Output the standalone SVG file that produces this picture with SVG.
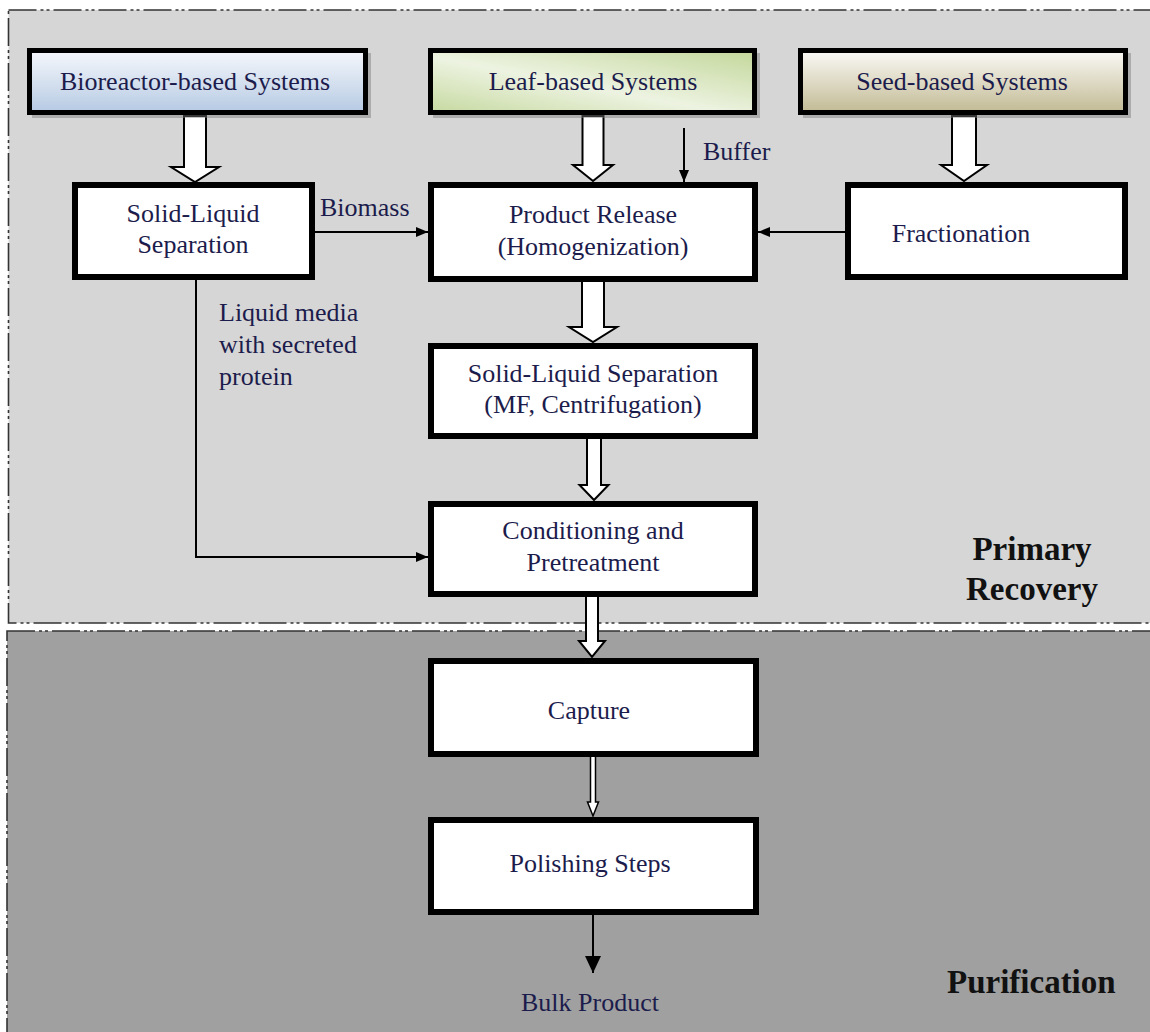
<svg xmlns="http://www.w3.org/2000/svg" width="1150" height="1032" viewBox="0 0 1150 1032">
<defs>
<linearGradient id="gBio" x1="0" y1="0" x2="0" y2="1"><stop offset="0" stop-color="#f6f8fc"/><stop offset="1" stop-color="#b6cae3"/></linearGradient>
<linearGradient id="gLeaf" x1="0" y1="1" x2="1" y2="0"><stop offset="0" stop-color="#c6d9a0"/><stop offset="0.45" stop-color="#edf3e1"/><stop offset="1" stop-color="#c3d79a"/></linearGradient>
<linearGradient id="gSeed" x1="0" y1="0" x2="0" y2="1"><stop offset="0" stop-color="#fbfaf7"/><stop offset="1" stop-color="#c2ba94"/></linearGradient>
<marker id="ah" viewBox="0 0 12 10" refX="12" refY="5" markerWidth="12" markerHeight="10" markerUnits="userSpaceOnUse" orient="auto"><path d="M0,0 L12,5 L0,10 Z" fill="#000"/></marker>
<marker id="ahBig" viewBox="0 0 17 16" refX="17" refY="8" markerWidth="17" markerHeight="16" markerUnits="userSpaceOnUse" orient="auto"><path d="M0,0 L17,8 L0,16 Z" fill="#000"/></marker>
</defs>
<style>
.region{stroke:#333;stroke-width:1.6;stroke-dasharray:28 4 3 3 3 4}
.box{fill:#fff;stroke:#000;stroke-width:6}
.cbox{stroke:#000;stroke-width:5}
.shadow{fill:#7a7a7a;opacity:0.45}
.t{font-family:"Liberation Serif","Times New Roman",serif;font-size:26px;fill:#1c1c4c}
.c{text-anchor:middle}
.b{font-family:"Liberation Serif","Times New Roman",serif;font-size:33px;font-weight:bold;fill:#111}
.hollow{fill:#fff;stroke:#000;stroke-width:2}
.thin{fill:none;stroke:#000;stroke-width:2}
</style>
<rect width="1150" height="1032" fill="#fff"/>
<g id="regions">
<rect class="region" x="8.5" y="10" width="1160" height="613" fill="#d6d6d6"/>
<rect class="region" x="7" y="631" width="1160" height="420" fill="#a0a0a0"/>
<text class="b c" x="1032" y="560">Primary</text>
<text class="b c" x="1032" y="600">Recovery</text>
<text class="b" x="947" y="993">Purification</text>
</g>
<g id="connectors">
<path class="hollow" d="M184,116 V167 H171 L195,182 L219,167 H206 V116 Z"/>
<path class="hollow" d="M582.5,116 V165 H573 L593,181 L613,165 H603.5 V116 Z"/>
<path class="hollow" d="M952,116 V165 H941 L964,181 L987,165 H976 V116 Z"/>
<path class="hollow" d="M582,281 V327 H569 L593,342 L617,327 H604 V281 Z"/>
<path class="hollow" d="M587,438 V485 H579.5 L594,500 L608.5,485 H601 V438 Z"/>
<path class="hollow" d="M586,596 V641 H579 L592,657 L605,641 H598 V596 Z"/>
<path class="hollow" style="stroke-width:1.5" d="M590.5,756 V802 H587.5 L593,816 L598.5,802 H595.5 V756 Z"/>
<line class="thin" x1="315" y1="232" x2="428" y2="232" marker-end="url(#ah)"/>
<line class="thin" x1="684" y1="128" x2="684" y2="182" marker-end="url(#ah)"/>
<line class="thin" x1="845" y1="232" x2="758" y2="232" marker-end="url(#ah)"/>
<path class="thin" d="M196,280 V557 H428" marker-end="url(#ah)"/>
<line class="thin" x1="593" y1="915" x2="593" y2="973" marker-end="url(#ahBig)"/>
<text class="t" x="320" y="216">Biomass</text>
<text class="t" x="703" y="160">Buffer</text>
<text class="t" x="219" y="321">Liquid media</text>
<text class="t" x="219" y="353">with secreted</text>
<text class="t" x="219" y="385">protein</text>
<text class="t c" x="590" y="1011">Bulk Product</text>
</g>
<g id="bioreactor">
<rect class="shadow" x="32" y="53" width="339" height="65"/>
<rect class="cbox" x="29.5" y="50.5" width="336" height="62" fill="url(#gBio)"/>
<text class="t c" x="195" y="90">Bioreactor-based Systems</text>
</g>
<g id="leaf">
<rect class="shadow" x="433" y="53" width="327" height="65"/>
<rect class="cbox" x="430.5" y="50.5" width="324" height="62" fill="url(#gLeaf)"/>
<text class="t c" x="593" y="90">Leaf-based Systems</text>
</g>
<g id="seed">
<rect class="shadow" x="803" y="53" width="328" height="65"/>
<rect class="cbox" x="800.5" y="50.5" width="325" height="62" fill="url(#gSeed)"/>
<text class="t c" x="962" y="90">Seed-based Systems</text>
</g>
<g id="sl1">
<rect class="box" x="75" y="185" width="237" height="92"/>
<text class="t c" x="193" y="222">Solid-Liquid</text>
<text class="t c" x="193" y="253">Separation</text>
</g>
<g id="release">
<rect class="box" x="431" y="185" width="324" height="94"/>
<text class="t c" x="593" y="223">Product Release</text>
<text class="t c" x="593" y="255">(Homogenization)</text>
</g>
<g id="fractionation">
<rect class="box" x="848" y="185" width="277" height="92"/>
<text class="t c" x="961" y="242">Fractionation</text>
</g>
<g id="sl2">
<rect class="box" x="431" y="346" width="324" height="90"/>
<text class="t c" x="593" y="382">Solid-Liquid Separation</text>
<text class="t c" x="593" y="413">(MF, Centrifugation)</text>
</g>
<g id="conditioning">
<rect class="box" x="431" y="504" width="324" height="90"/>
<text class="t c" x="593" y="539">Conditioning and</text>
<text class="t c" x="593" y="571">Pretreatment</text>
</g>
<g id="capture">
<rect class="box" x="431" y="661" width="325" height="93"/>
<text class="t c" x="589" y="719">Capture</text>
</g>
<g id="polishing">
<rect class="box" x="431" y="820" width="325" height="92"/>
<text class="t c" x="590" y="872">Polishing Steps</text>
</g>
</svg>
